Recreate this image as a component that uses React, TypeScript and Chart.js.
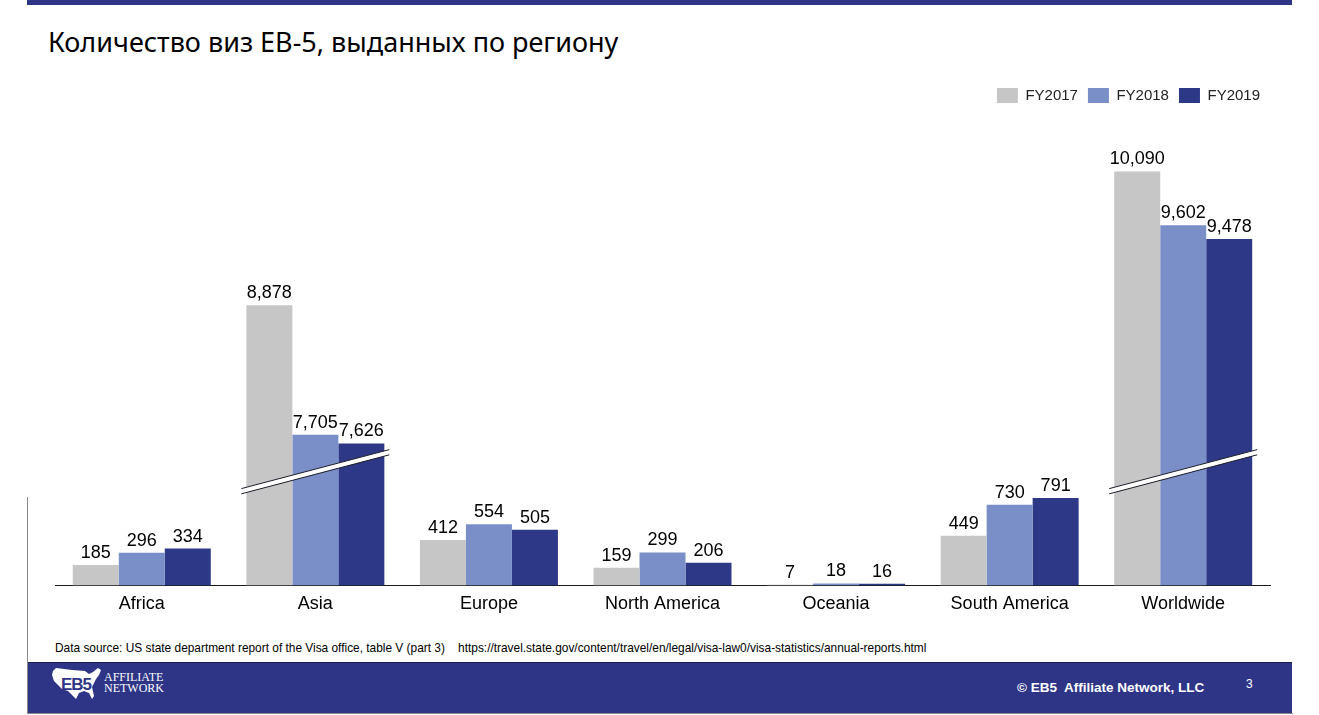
import React, { useEffect, useRef } from "react";
import { Chart, registerables, LinearScale } from "chart.js";

Chart.register(...registerables);

// ---- data ----
const categories = ["Africa", "Asia", "Europe", "North America", "Oceania", "South America", "Worldwide"];
const fy2017 = [185, 8878, 412, 159, 7, 449, 10090];
const fy2018 = [296, 7705, 554, 299, 18, 730, 9602];
const fy2019 = [334, 7626, 505, 206, 16, 791, 9478];
const seriesLabels = ["FY2017", "FY2018", "FY2019"];
const brokenCategories = ["Asia", "Worldwide"];

// axis break: values above BREAK_AT have BREAK_GAP removed
const BREAK_AT = 1030;
const BREAK_GAP = 6340;
const Y_MAX = 10620;

const COLORS = ["#C6C6C6", "#7A8EC8", "#2D3986"];
const NAVY = "#2E3586";
const FONT = '"Liberation Sans", Arial, sans-serif';

class BrokenLinearScale extends LinearScale {
  static id = "brokenLinear";
  compress(v: number) {
    const b = (this.options as any).breakAt as number;
    const g = (this.options as any).breakGap as number;
    if (v <= b) return v;
    return Math.max(b, v - g);
  }
  expand(c: number) {
    const b = (this.options as any).breakAt as number;
    const g = (this.options as any).breakGap as number;
    return c <= b ? c : c + g;
  }
  getPixelForValue(value: any) {
    if (value === null || value === undefined || isNaN(value)) return NaN;
    const lo = this.compress(this.min);
    const hi = this.compress(this.max);
    return this.getPixelForDecimal((this.compress(value) - lo) / (hi - lo));
  }
  getValueForPixel(pixel: number) {
    const lo = this.compress(this.min);
    const hi = this.compress(this.max);
    return this.expand(lo + this.getDecimalForPixel(pixel) * (hi - lo));
  }
}
Chart.register(BrokenLinearScale as any);

const breakMarks = {
  id: "breakMarks",
  afterDatasetsDraw(chart: any) {
    const { ctx, scales } = chart;
    const xs = scales.x;
    const ys = scales.y;
    const yc = ys.getPixelForValue(BREAK_AT);
    ctx.save();
    brokenCategories.forEach((cat) => {
      const i = categories.indexOf(cat);
      const xc = xs.getPixelForValue(i);
      const xl = xc - 74;
      const xr = xc + 74;
      const dy = 19.5;
      const t = 2.6;
      ctx.beginPath();
      ctx.moveTo(xl, yc + dy - t);
      ctx.lineTo(xr, yc - dy - t);
      ctx.lineTo(xr, yc - dy + t);
      ctx.lineTo(xl, yc + dy + t);
      ctx.closePath();
      ctx.fillStyle = "#ffffff";
      ctx.fill();
      ctx.strokeStyle = "#1c1c2a";
      ctx.lineWidth = 1;
      ctx.beginPath();
      ctx.moveTo(xl, yc + dy - t);
      ctx.lineTo(xr, yc - dy - t);
      ctx.moveTo(xl, yc + dy + t);
      ctx.lineTo(xr, yc - dy + t);
      ctx.stroke();
    });
    ctx.restore();
  },
};

const valueLabels = {
  id: "valueLabels",
  afterDatasetsDraw(chart: any) {
    const ctx = chart.ctx;
    ctx.save();
    ctx.font = `18px ${FONT}`;
    ctx.fillStyle = "#000";
    ctx.textAlign = "center";
    ctx.textBaseline = "alphabetic";
    chart.data.datasets.forEach((ds: any, di: number) => {
      const meta = chart.getDatasetMeta(di);
      meta.data.forEach((bar: any, i: number) => {
        const v = ds.data[i] as number;
        ctx.fillText(v.toLocaleString("en-US"), bar.x, bar.y - 7);
      });
    });
    ctx.restore();
  },
};

function UsMap() {
  return (
    <svg width="50" height="36" viewBox="0 0 50 36" style={{ position: "absolute", left: 52, top: 666 }}>
      <path
        d="M1 5 L4 2 L20 4 L33 5 L37 8 L41 6 L46 2 L49 4 L47 9 L44 13 L42 17 L40 21 L42 30 L40 33 L37 27 L32 25 L27 27 L24 33 L20 29 L16 25 L10 23 L6 19 L2 15 L0 9 Z"
        fill="#ffffff"
      />
      <text x="24" y="24" textAnchor="middle" fontFamily={FONT} fontWeight="bold" fontSize="17" fill={NAVY} letterSpacing="-1">
        EB5
      </text>
    </svg>
  );
}

export default function App() {
  const canvasRef = useRef<HTMLCanvasElement | null>(null);

  useEffect(() => {
    if (!canvasRef.current) return;
    const chart = new Chart(canvasRef.current, {
      type: "bar",
      data: {
        labels: categories,
        datasets: [fy2017, fy2018, fy2019].map((d, k) => ({
          label: seriesLabels[k],
          data: d,
          backgroundColor: COLORS[k],
          borderWidth: 0,
          categoryPercentage: 0.795,
          barPercentage: 1,
        })),
      },
      options: {
        responsive: false,
        animation: false,
        layout: { padding: { left: 28, right: 22, top: 0, bottom: 0 } },
        plugins: {
          legend: {
            position: "top",
            align: "end",
            labels: {
              boxWidth: 21,
              boxHeight: 15,
              padding: 10,
              color: "#222",
              font: { family: FONT, size: 15 },
            },
          },
          tooltip: { enabled: false },
        },
        scales: {
          x: {
            grid: { display: false, drawTicks: false },
            border: { display: true, color: "#1a1a1a", width: 1 },
            ticks: { color: "#000", font: { family: FONT, size: 18 }, padding: 8, maxRotation: 0, autoSkip: false },
          },
          y: {
            type: "brokenLinear" as any,
            breakAt: BREAK_AT,
            breakGap: BREAK_GAP,
            min: 0,
            max: Y_MAX,
            display: false,
          } as any,
        },
      },
      plugins: [breakMarks, valueLabels],
    });
    return () => chart.destroy();
  }, []);

  return (
    <div style={{ position: "absolute", left: 0, top: 0, width: 1319, height: 715, overflow: "hidden", background: "#fff" }}>
      <div style={{ position: "absolute", left: 27, top: 0, width: 1265, height: 5, background: NAVY }} />
      <div
        style={{
          position: "absolute",
          left: 48,
          top: 24,
          fontFamily: '"Noto Sans", sans-serif',
          fontSize: 27,
          lineHeight: "36px",
          color: "#000",
          whiteSpace: "nowrap",
        }}
      >
        Количество виз EB-5, выданных по региону
      </div>
      <canvas
        ref={canvasRef}
        width={1265}
        height={545}
        style={{ position: "absolute", left: 27, top: 78, width: 1265, height: 545 }}
      />
      <div
        style={{
          position: "absolute",
          left: 55,
          top: 640,
          fontFamily: FONT,
          fontSize: 13,
          lineHeight: "16px",
          color: "#000",
          whiteSpace: "pre",
          transform: "scaleX(0.914)",
          transformOrigin: "0 0",
        }}
      >
        {"Data source: US state department report of the Visa office, table V (part 3)    https://travel.state.gov/content/travel/en/legal/visa-law0/visa-statistics/annual-reports.html"}
      </div>
      <div style={{ position: "absolute", left: 27, top: 497, width: 1, height: 217, background: "#8a8a8a" }} />
      <div style={{ position: "absolute", left: 27, top: 713, width: 1266, height: 1, background: "#8a8a8a" }} />
      <div style={{ position: "absolute", left: 28, top: 662, width: 1264, height: 50, background: NAVY, borderTop: "1px solid #1d2050" }} />
      <UsMap />
      <div
        style={{
          position: "absolute",
          left: 104,
          top: 672,
          fontFamily: '"Liberation Serif", "Times New Roman", serif',
          fontSize: 12,
          lineHeight: "11px",
          color: "#fff",
        }}
      >
        AFFILIATE
        <br />
        NETWORK
      </div>
      <div
        style={{
          position: "absolute",
          left: 1017,
          top: 679,
          fontFamily: FONT,
          fontWeight: "bold",
          fontSize: 13.5,
          lineHeight: "18px",
          color: "#fff",
          whiteSpace: "pre",
        }}
      >
        {"© EB5  Affiliate Network, LLC"}
      </div>
      <div
        style={{
          position: "absolute",
          left: 1246,
          top: 677,
          fontFamily: FONT,
          fontSize: 12,
          lineHeight: "14px",
          color: "#fff",
        }}
      >
        3
      </div>
    </div>
  );
}
